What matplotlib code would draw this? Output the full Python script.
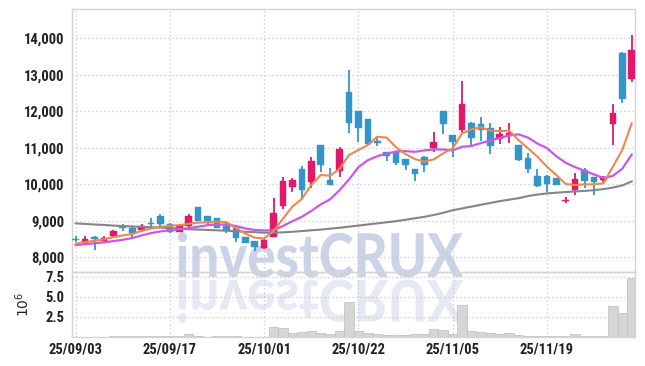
import matplotlib
matplotlib.use("Agg")
import matplotlib.pyplot as plt
import numpy as np
from matplotlib import font_manager as fm
from matplotlib.textpath import TextPath
from matplotlib.patches import PathPatch
from matplotlib.font_manager import FontProperties
from matplotlib.transforms import Affine2D
from matplotlib.ticker import FuncFormatter

# ---------------- data ----------------
opens = [8500, 8400, 8555, 8436, 8582, 8827, 8809, 8736, 8936, 9127,
         8905, 8700, 8860, 9375, 9132, 9068, 8860, 8794, 8556, 8447,
         8265, 8566, 9415, 9936, 10419, 10073, 11077, 10118, 10374, 12528,
         12008, 11789, 11168, 10876, 10885, 10693, 10419, 10757, 11004, 12008,
         11351, 11488, 11670, 11640, 11533, 11241, 11330, 11077, 10730, 10228,
         10237, 10164, 9530, 9844, 10392, 10191, 10118, 11643, 13606, 12894]
highs = [8575, 8590, 8575, 8573, 8736, 8900, 8818, 8900, 9064, 9200,
         8930, 8890, 9180, 9380, 9140, 9070, 8935, 8800, 8570, 8450,
         8493, 9634, 10210, 10182, 10500, 10750, 11080, 10438, 11020, 13125,
         12010, 11790, 11278, 10880, 10890, 10700, 10420, 10770, 11424, 12010,
         11360, 12839, 11716, 11835, 11670, 11561, 11670, 11090, 10849, 10410,
         10250, 10180, 9662, 10319, 10438, 10200, 10230, 12191, 13615, 14090]
lows = [8430, 8365, 8200, 8409, 8518, 8718, 8545, 8682, 8818, 8836,
        8655, 8690, 8760, 9000, 8880, 8811, 8676, 8411, 8392, 8164,
        8219, 8550, 9324, 9780, 9598, 9900, 10346, 9985, 10191, 11396,
        11168, 11113, 11059, 10640, 10529, 10380, 10080, 10328, 10894, 11369,
        10739, 11378, 11031, 11187, 10821, 11104, 11141, 10638, 10301, 9917,
        9789, 9990, 9479, 9698, 9908, 9707, 10073, 11077, 12218, 12812]
closes = [8465, 8510, 8510, 8527, 8718, 8791, 8673, 8855, 8900, 8900,
          8690, 8875, 9132, 9005, 9000, 8812, 8750, 8537, 8400, 8290,
          8475, 9205, 10091, 10118, 9844, 10639, 10535, 9990, 10967, 11688,
          11552, 11113, 11140, 10785, 10593, 10538, 10270, 10538, 11159, 11652,
          11168, 12200, 11278, 11500, 11059, 11375, 11410, 10666, 10410, 9963,
          9999, 9990, 9570, 10136, 10100, 10073, 10191, 11944, 12346, 13679]
volumes = [0.02, 0.02, 0.02, 0.03, 0.08, 0.08, 0.08, 0.08, 0.08, 0.08,
           0.08, 0.08, 0.34, 0.18, 0.03, 0.08, 0.08, 0.08, 0.02, 0.02,
           0.03, 1.30, 1.17, 0.46, 0.59, 0.80, 0.46, 0.38, 0.69, 4.40,
           0.73, 0.48, 0.38, 0.29, 0.19, 0.19, 0.33, 0.42, 0.96, 0.84,
           0.34, 3.94, 0.73, 0.58, 0.46, 0.34, 0.46, 0.23, 0.17, 0.17,
           0.17, 0.07, 0.07, 0.34, 0.07, 0.07, 0.07, 3.82, 2.98, 7.32]
ma_short = [8373, 8418, 8455, 8491, 8555, 8600, 8636, 8727, 8791, 8836,
            8864, 8882, 8918, 8950, 8959, 8980, 8965, 8800, 8650, 8540,
            8515, 8720, 9060, 9390, 9600, 9981, 10255, 10237, 10420, 10803,
            10940, 11077, 11305, 11280, 11013, 10830, 10693, 10620, 10684, 10849,
            10985, 11396, 11506, 11561, 11470, 11460, 11470, 11210, 10986, 10757,
            10483, 10255, 10009, 9981, 10000, 10000, 10027, 10483, 10940, 11670]
ma_mid = [8336, 8360, 8385, 8410, 8445, 8480, 8530, 8600, 8665, 8710,
          8745, 8770, 8800, 8840, 8880, 8900, 8895, 8860, 8790, 8750,
          8735, 8745, 8860, 8990, 9110, 9270, 9450, 9590, 9840, 10130,
          10470, 10660, 10770, 10840, 10900, 10910, 10890, 10930, 10955, 10955,
          10930, 11030, 11050, 11130, 11200, 11270, 11340, 11370, 11280, 11115,
          10995, 10770, 10590, 10470, 10370, 10270, 10175, 10230, 10430, 10815]
ma_long = [8932, 8915, 8900, 8887, 8870, 8857, 8845, 8835, 8825, 8812,
           8800, 8785, 8770, 8760, 8750, 8740, 8728, 8715, 8700, 8690,
           8675, 8675, 8685, 8700, 8720, 8740, 8760, 8785, 8810, 8840,
           8870, 8900, 8930, 8960, 8990, 9030, 9070, 9110, 9160, 9220,
           9290, 9340, 9390, 9440, 9490, 9540, 9580, 9620, 9680, 9720,
           9750, 9770, 9790, 9805, 9820, 9840, 9870, 9910, 9970, 10080]
date_tick_pos = [0, 10, 20, 30, 40, 50]
date_tick_labels = ["25/09/03", "25/09/17", "25/10/01", "25/10/22", "25/11/05", "25/11/19"]
price_ticks = [8000, 9000, 10000, 11000, 12000, 13000, 14000]
volume_ticks = [2.5, 5.0, 7.5]

# ---------------- fonts ----------------
entries = fm.fontManager.ttflist
names = {f.name for f in entries}
tick_prop = None
for cand in ["Roboto Condensed", "Liberation Sans Narrow", "Open Sans Condensed"]:
    if cand in names:
        tick_prop = FontProperties(family=[cand, "DejaVu Sans"], weight="bold")
        break
if tick_prop is None:
    cond = [f for f in entries if f.name == "DejaVu Sans" and "condensed" in str(f.stretch).lower()]
    if cond:
        tick_prop = FontProperties(family=["DejaVu Sans"], stretch="condensed", weight="bold")
    else:
        tick_prop = FontProperties(family=["Roboto", "DejaVu Sans"], weight="medium")
tick_prop.set_size(10.5)

wm_family = "Lato" if "Lato" in names else "DejaVu Sans"

UP = "#e2196a"
DOWN = "#3496c8"
GRID = "#c3c8db"
SPINE = "#d4d4d4"
TXT = "#222222"

W, H = 645, 366
fig = plt.figure(figsize=(W / 100, H / 100), dpi=100, facecolor="white")
L, R = 71.7, 635.0
ax1 = fig.add_axes([L / W, (H - 272.3) / H, (R - L) / W, (272.3 - 9.3) / H])
ax2 = fig.add_axes([L / W, (H - 337.0) / H, (R - L) / W, (337.0 - 272.3) / H], sharex=ax1)
for ax in (ax1, ax2):
    ax.set_facecolor("none")
    for s in ax.spines.values():
        s.set_color(SPINE)
        s.set_linewidth(1.0)
    ax.grid(True, linestyle=(0, (1, 2.2)), color=GRID, linewidth=0.9)
    ax.set_axisbelow(True)
    ax.tick_params(length=0, colors=TXT, pad=5)

x = np.arange(len(opens))
o = np.array(opens, float)
c = np.array(closes, float)
hi = np.array(highs, float)
lo = np.array(lows, float)
up = c >= o
cols = np.where(up, UP, DOWN)

# watermark (behind data)
wm_prop = FontProperties(family=wm_family, weight="black")
tp = TextPath((0, 0), "investCRUX", size=100, prop=wm_prop)
bb = tp.get_extents()
x0, x1 = 178, 463
base_y, top_y = H - 277.5, H - 232
sx = (x1 - x0) / bb.width
sy = (top_y - base_y) / bb.height
t_main = Affine2D().translate(-bb.x0, -bb.y0).scale(sx, sy).translate(x0, base_y)
p1 = PathPatch(tp, facecolor="#cdd3e7", edgecolor="none", transform=t_main, zorder=0.3, clip_on=False)
ax1.add_artist(p1)
t_ref = Affine2D().translate(-bb.x0, -bb.y0).scale(sx, -sy * 0.95).translate(x0, base_y - 2)
p2 = PathPatch(tp, facecolor="#e6e9f2", edgecolor="none", transform=t_ref, zorder=0.3, clip_on=False)
ax1.add_artist(p2)

# candles
ax1.vlines(x, lo, hi, colors=cols, linewidth=1.3, zorder=2)
body_h = np.maximum(np.abs(c - o), 35)
body_b = np.minimum(o, c)
ax1.bar(x, body_h, bottom=body_b, width=0.7, color=cols, edgecolor=cols, linewidth=0.3, zorder=3)

# moving averages
ax1.plot(x, ma_long, color="#858585", linewidth=1.5, zorder=4)
ax1.plot(x, ma_mid, color="#c957ea", linewidth=1.6, zorder=4)
ax1.plot(x, ma_short, color="#ee8650", linewidth=1.5, zorder=5)

ax1.set_xlim(-0.42, 59.35)
ax1.set_ylim(7590, 14795)
ax1.set_yticks(price_ticks)
ax1.yaxis.set_major_formatter(FuncFormatter(lambda v, p: f"{int(v):,}"))
ax1.set_xticks(date_tick_pos)
ax1.tick_params(axis="x", labelbottom=False)

# volume
ax2.bar(x, volumes, width=1.0, color="#d6d6d6", edgecolor="#c4c4c4", linewidth=0.6, zorder=2)
ax2.set_ylim(0, 8.05)
ax2.set_yticks(volume_ticks)
ax2.set_yticklabels([f"{v:.1f}" for v in volume_ticks])
ax2.set_xticks(date_tick_pos)
ax2.set_xticklabels(date_tick_labels)
ax2.set_ylabel(r"$10^6$", fontsize=10, color=TXT, labelpad=10, family="DejaVu Sans")
ax2.tick_params(axis="x", pad=4)

for ax in (ax1, ax2):
    for lab in ax.get_yticklabels() + ax.get_xticklabels():
        lab.set_fontproperties(tick_prop)

fig.savefig("out.png", dpi=100, facecolor="white")
